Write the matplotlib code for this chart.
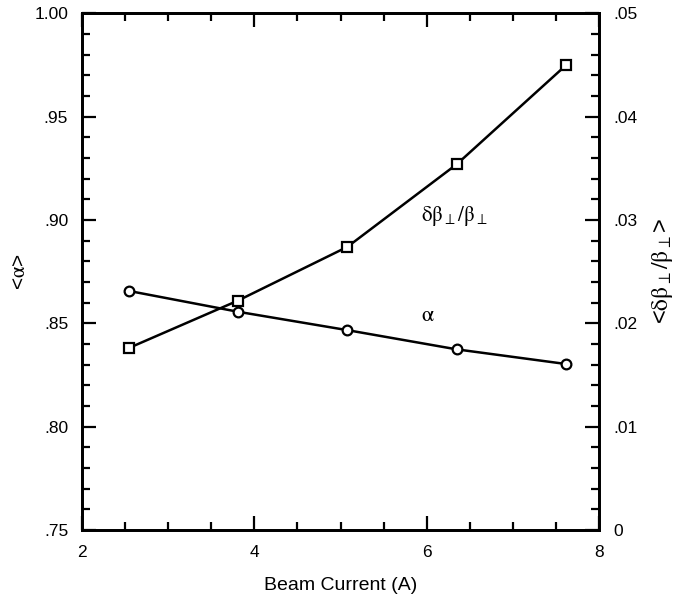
import matplotlib
matplotlib.use("Agg")
import matplotlib.pyplot as plt
from matplotlib.ticker import MultipleLocator, FuncFormatter

plt.rcParams['font.family'] = ['Liberation Sans', 'DejaVu Sans']
plt.rcParams['mathtext.fontset'] = 'stix'

# Beam current (A)
beam_current = [2.54, 3.81, 5.08, 6.35, 7.62]
# Mean alpha (left axis)
alpha_mean = [0.8657, 0.8556, 0.8467, 0.8374, 0.8303]
# Mean relative transverse beta spread (right axis)
dbeta_rel = [0.0176, 0.0222, 0.0274, 0.0354, 0.0450]

fig = plt.figure(figsize=(6.79, 6.03), dpi=100)
ax = fig.add_axes([0.1208, 0.121, 0.7614, 0.857])
ax2 = ax.twinx()

lw = 1.8
ax.plot(beam_current, alpha_mean, color='black', lw=lw, marker='o', ms=7,
        mfc='white', mec='black', mew=1.6, zorder=3)
ax2.plot(beam_current, dbeta_rel, color='black', lw=lw, marker='s', ms=7.5,
         mfc='white', mec='black', mew=1.6, zorder=3)

ax.set_xlim(2, 8)
ax.set_ylim(0.75, 1.00)
ax2.set_ylim(0, 0.05)

def nolead(v, pos):
    if abs(v) < 1e-12:
        return "0"
    return f"{v:.2f}".lstrip("0")

ax.xaxis.set_major_locator(MultipleLocator(2))
ax.xaxis.set_minor_locator(MultipleLocator(0.5))
ax.yaxis.set_major_locator(MultipleLocator(0.05))
ax.yaxis.set_minor_locator(MultipleLocator(0.01))
ax.yaxis.set_major_formatter(FuncFormatter(nolead))
ax2.yaxis.set_major_locator(MultipleLocator(0.01))
ax2.yaxis.set_minor_locator(MultipleLocator(0.002))
ax2.yaxis.set_major_formatter(FuncFormatter(nolead))

fs_tick = 12.5
ax.tick_params(axis='x', which='both', direction='in', top=True, bottom=True,
               labelsize=fs_tick, pad=11, width=1.6)
ax.tick_params(axis='y', which='both', direction='in', left=True, right=False,
               labelsize=fs_tick, pad=10, width=1.6)
ax2.tick_params(axis='y', which='both', direction='in', right=True, left=False,
                labelsize=fs_tick, pad=10, width=1.6)
for a in (ax, ax2):
    a.tick_params(which='major', length=10)
    a.tick_params(which='minor', length=6)
    for s in a.spines.values():
        s.set_linewidth(2)

ax.set_xlabel("Beam Current (A)", fontsize=14, labelpad=12)
ax.set_ylabel(r"<$\mathrm{\alpha}$>", fontsize=15, labelpad=4)
ax2.set_ylabel(r"<$\mathrm{\delta\beta_{\perp}/\beta_{\perp}}$>", fontsize=17,
               labelpad=9, rotation=90)

ax.text(5.93, 0.902, r"$\mathrm{\delta\beta_{\perp}/\beta_{\perp}}$", fontsize=15,
        ha='left', va='center')
ax.text(5.93, 0.854, r"$\mathrm{\alpha}$", fontsize=16, ha='left', va='center')

fig.savefig("out.png", dpi=100)
